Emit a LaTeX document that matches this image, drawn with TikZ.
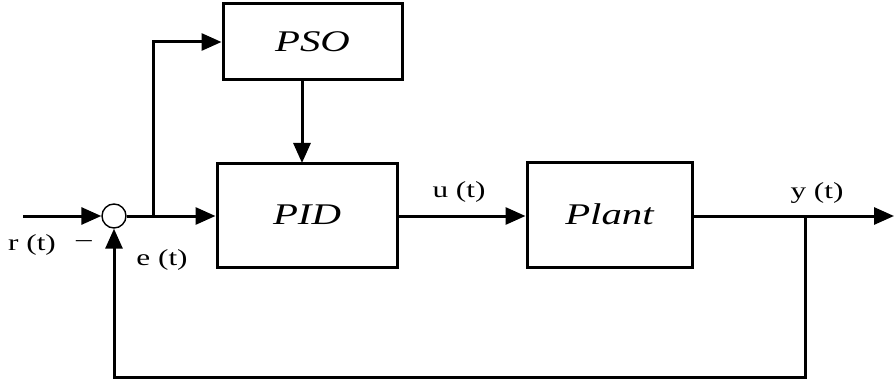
\documentclass[tikz,border=0pt]{standalone}
\usepackage{fontspec}
\setmainfont{Liberation Serif}
\usetikzlibrary{arrows.meta}
\newcommand{\wtext}[1]{\scalebox{1.36}[1]{#1}}
\begin{document}
\begin{tikzpicture}[x=1pt,y=-1pt,
  line width=3pt,
  blk/.style={draw,rectangle,inner sep=0pt,font=\fontsize{30}{32}\selectfont\itshape},
  lbl/.style={font=\fontsize{23}{25}\selectfont,inner sep=0pt},
  arr/.style={-{Triangle[length=20pt,width=17pt]}},
  sumc/.style={draw,circle,line width=1.4pt,minimum size=24pt,inner sep=0pt}]
\useasboundingbox (0,0) rectangle (894,385);
\node[blk,minimum width=179pt,minimum height=76pt] (pso) at (312.5,42) {\wtext{PSO}};
\node[blk,minimum width=180pt,minimum height=104pt] (pid) at (307,215) {\wtext{PID}};
\node[blk,minimum width=165pt,minimum height=105pt] (plant) at (609.5,214.5) {\wtext{Plant}};
\node[sumc] (sum) at (114,216) {};
\coordinate (in) at (23,216);
\coordinate (br) at (153,216);
\coordinate (out) at (894,216);
\coordinate (fb) at (805,216);
\draw[arr] (in) -- (sum.west);
\draw (sum.east) -- (br);
\draw[arr] (br) -- (pid.west |- br);
\draw[arr] (br) |- (pso.west);
\draw[arr] (pso.south -| 302,0) -- (302,163);
\draw[arr] (pid.east |- 0,216) -- (plant.west |- 0,216);
\draw[arr] (plant.east |- 0,216) -- (out);
\draw[arr] (fb) -- (805,377) -| (sum.south);
\node[lbl] (r) at (32,245) {\wtext{r (t)}};
\node[lbl] (minus) at (84,244) {\wtext{–}};
\node[lbl] (e) at (162,260) {\wtext{e (t)}};
\node[lbl] (u) at (459,192) {\wtext{u (t)}};
\node[lbl] (y) at (817,193) {\wtext{y (t)}};
\end{tikzpicture}
\end{document}
